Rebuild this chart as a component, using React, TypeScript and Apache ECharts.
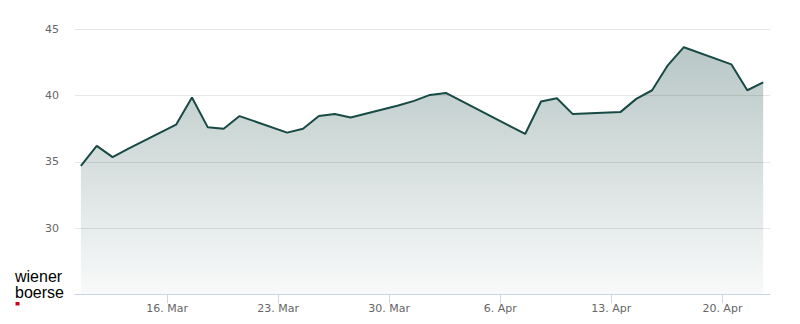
import React, { useEffect, useRef } from "react";
import * as echarts from "echarts";

// Trading days (closing prices), 2026
const dates: string[] = [
  "2026-03-10", "2026-03-11", "2026-03-12", "2026-03-13",
  "2026-03-16", "2026-03-17", "2026-03-18", "2026-03-19", "2026-03-20",
  "2026-03-23", "2026-03-24", "2026-03-25", "2026-03-26", "2026-03-27",
  "2026-03-30", "2026-03-31", "2026-04-01", "2026-04-02",
  "2026-04-07", "2026-04-08", "2026-04-09", "2026-04-10",
  "2026-04-13", "2026-04-14", "2026-04-15", "2026-04-16", "2026-04-17",
  "2026-04-20", "2026-04-21", "2026-04-22",
];
const prices: number[] = [
  34.7, 36.2, 35.35, 36.0,
  37.8, 39.85, 37.6, 37.5, 38.45,
  37.2, 37.5, 38.45, 38.6, 38.35,
  39.25, 39.6, 40.05, 40.2,
  37.1, 39.55, 39.8, 38.6,
  38.75, 39.75, 40.4, 42.3, 43.65,
  42.35, 40.4, 41.0,
];
const tickDates: string[] = ["2026-03-16", "2026-03-23", "2026-03-30", "2026-04-06", "2026-04-13", "2026-04-20"];
const tickLabels: string[] = ["16. Mar", "23. Mar", "30. Mar", "6. Apr", "13. Apr", "20. Apr"];
const logoText = "wiener\nboerse";
const axisStart = "2026-03-10T04:48:00Z";
const axisEnd = "2026-04-23T00:00:00Z";
const closeTimeUTC = "T13:41:00Z";

const DAY = 86400000;
const origin = Date.UTC(2026, 2, 2);
const toDays = (iso: string) => (Date.parse(iso) - origin) / DAY;

export default function App() {
  const ref = useRef<HTMLDivElement>(null);
  useEffect(() => {
    document.body.style.margin = "0";
    const chart = echarts.init(ref.current!, null, { renderer: "svg" });
    const tickValues = tickDates.map((d) => toDays(d + "T00:00:00Z"));
    const data = dates.map((d, i) => [toDays(d + closeTimeUTC), prices[i]]);
    const labelFor = (v: number) => {
      const idx = tickValues.findIndex((t) => Math.abs(t - v) < 1e-6);
      return idx >= 0 ? tickLabels[idx] : "";
    };
    chart.setOption({
      animation: false,
      grid: { left: 75, right: 30, top: 29.3, bottom: 29.7, containLabel: false },
      xAxis: {
        type: "value",
        min: toDays(axisStart),
        max: toDays(axisEnd),
        axisLine: { show: true, lineStyle: { color: "#ccd6eb", width: 1 } },
        axisTick: {
          show: true,
          length: 9,
          customValues: tickValues,
          lineStyle: { color: "#ccd6eb", width: 1 },
        },
        axisLabel: {
          show: true,
          customValues: tickValues,
          formatter: (v: number) => labelFor(v),
          color: "#666666",
          fontSize: 11,
          fontFamily: "DejaVu Sans",
          margin: 9,
        },
        splitLine: { show: false },
      },
      yAxis: {
        type: "value",
        min: 25,
        max: 45,
        interval: 5,
        axisLine: { show: false },
        axisTick: { show: false },
        axisLabel: {
          showMinLabel: false,
          color: "#666666",
          fontSize: 11,
          fontFamily: "DejaVu Sans",
          margin: 16,
        },
        splitLine: { show: true, lineStyle: { color: "#e6e6e6", width: 1 } },
      },
      series: [
        {
          type: "line",
          data,
          showSymbol: false,
          symbol: "none",
          lineStyle: { color: "#184a45", width: 2 },
          itemStyle: { color: "#184a45" },
          areaStyle: {
            origin: "start",
            color: new echarts.graphic.LinearGradient(0, 0, 0, 1, [
              { offset: 0, color: "rgba(24,74,69,0.44)" },
              { offset: 1, color: "rgba(24,74,69,0.04)" },
            ]),
          },
        },
      ],
      graphic: [
        {
          type: "text",
          x: 15,
          y: 268.8,
          style: {
            text: logoText,
            fill: "#000000",
            font: "16px 'Liberation Sans'",
            lineHeight: 16,
            verticalAlign: "top",
          },
        },
        {
          type: "rect",
          shape: { x: 15.5, y: 302, width: 4, height: 3.5 },
          style: { fill: "#d0021b" },
        },
      ],
    });
    return () => chart.dispose();
  }, []);
  return (
    <div
      ref={ref}
      style={{ width: 800, height: 324, position: "fixed", left: 0, top: 0, background: "#ffffff" }}
    />
  );
}
